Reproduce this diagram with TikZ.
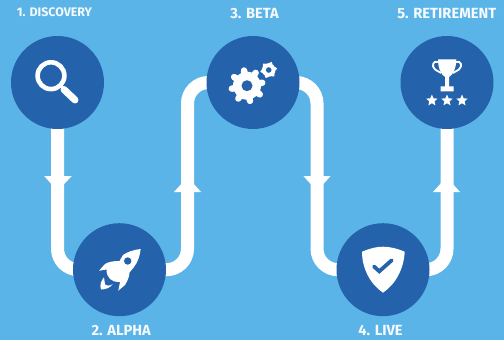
\documentclass[tikz,border=0pt]{standalone}
\usepackage{fontspec}
\setmainfont{Fira Sans}
\usetikzlibrary{shapes.geometric,backgrounds}
\definecolor{skyback}{HTML}{5BB4E7}
\definecolor{discblue}{HTML}{2463AC}
\definecolor{labelwhite}{HTML}{F4FAFE}
\tikzset{
  disc/.style={circle,fill=discblue,minimum size=93pt,inner sep=0pt},
  pipe/.style={draw=white,line width=13pt,rounded corners=21pt},
  phase/.style={text=labelwhite,font=\fontsize{14.7}{14.7}\bfseries\selectfont,inner sep=0pt},
  starmark/.style={star,star points=5,star point ratio=2.2,fill=white,minimum size=12pt,inner sep=0pt},
  tooth/.style={draw=white,line cap=round}
}
\newcommand{\gearicon}[6]{% centre, teeth, body, tooth end, tooth width, hole
  \fill[white] #1 circle (#3pt);
  \foreach \a in {1,...,#2}
    \draw[tooth,line width=#5pt] #1 ++(\a*360/#2+11:#3pt-1pt) -- ++(\a*360/#2+11:#4pt-#3pt);
  \fill[discblue] #1 circle (#6pt);
}
\begin{document}
\begin{tikzpicture}[x=1pt,y=-1pt]
\useasboundingbox (0,0) rectangle (504,340);

\node[disc] (discovery) at (57.5,82.5) {};
\node[disc] (alpha) at (119.5,269.7) {};
\node[disc] (beta) at (253,82.5) {};
\node[disc] (live) at (383,269.7) {};
\node[disc] (retirement) at (447,82.5) {};

\coordinate (turnab) at (187.5,176);
\coordinate (turnbl) at (317,176);

\begin{pgfonlayer}{background}
\fill[skyback] (0,0) rectangle (504,340);
\draw[pipe] (discovery.center) |- (alpha.center);
\draw[pipe] (alpha.center) -| (turnab) |- (beta.center);
\draw[pipe] (beta.center) -| (turnbl) |- (live.center);
\draw[pipe] (live.center) -| (retirement.center);
\end{pgfonlayer}

% arrow heads on the pipes
\fill[white] (44.2,176) -- (71.8,176) -- (57.5,191) -- cycle;
\fill[white] (174,192) -- (201,192) -- (187.5,177) -- cycle;
\fill[white] (303.4,176) -- (330.6,176) -- (317,191) -- cycle;
\fill[white] (433,192) -- (460,192) -- (446.5,177) -- cycle;

\node[phase,font=\fontsize{12.4}{12.4}\bfseries\selectfont] (lab1) at (54.5,12.7) {1. DISCOVERY};
\node[phase] (lab2) at (121.2,331) {2. ALPHA};
\node[phase] (lab3) at (254.5,14) {3. BETA};
\node[phase] (lab4) at (380.5,331) {4. LIVE};
\node[phase] (lab5) at (446.8,14) {5. RETIREMENT};

% magnifier
\draw[white,line width=4.6pt] (51,75.7) circle (13.4pt);
\draw[white,line width=3pt] (60,85) -- (66,91);
\draw[white,line width=7pt,line cap=round] (64,89.5) -- (75,100);

% rocket
\fill[white] (140.7,249) .. controls (133,250) and (127,252) .. (123,255)
  -- (119.5,261) .. controls (113,261) and (108,262) .. (105,264)
  -- (99,270.7) -- (106.5,269.5) .. controls (106.5,274) and (108,277) .. (110,279)
  .. controls (112,281) and (115,282) .. (120,282)
  -- (118.3,290.7) -- (125,285) .. controls (128,280) and (129.5,276) .. (129.5,272.5)
  -- (134,267) .. controls (138,262) and (140,255) .. (140.7,249) -- cycle;
\fill[discblue] (127.7,261) circle (3.7pt);
\fill[white] (104,277.3) .. controls (101,281) and (99.5,285) .. (101,289.5)
  .. controls (105,289.5) and (110,288) .. (112.7,284.3)
  .. controls (109,286) and (106,286) .. (105,284.5)
  .. controls (104.5,282) and (104.5,280) .. (104,277.3) -- cycle;

% gears
\gearicon{(247,85.7)}{8}{14}{16.5}{6.4}{5.5}
\gearicon{(268.7,70)}{6}{6.8}{8}{3.2}{2.8}

% shield
\fill[white] (362,251.7) .. controls (370,248.5) and (376,246.7) .. (383,246.7)
  .. controls (390,246.7) and (397,248.5) .. (404.7,251.7)
  .. controls (404,268) and (396,284) .. (383,292.7)
  .. controls (370,284) and (362,268) .. (362,251.7) -- cycle;
\draw[discblue,line width=3.8pt,line cap=round] (374,266.5) -- (379.3,271.3) -- (391.8,260.2);

% trophy
\fill[white] (438,59.3) -- (456.3,59.3) .. controls (456.3,68) and (453,75) .. (449,77)
  -- (449,86.3) -- (453.7,86.3) -- (453.7,91.3) -- (440.5,91.3) -- (440.5,86.3) -- (445.2,86.3)
  -- (445.2,77) .. controls (441,75) and (438,68) .. (438,59.3) -- cycle;
\draw[white,line width=1.8pt] (438.5,62) .. controls (433,60) and (431,66) .. (435,69.5) -- (441,73);
\draw[white,line width=1.8pt] (455.8,62) .. controls (461,60) and (463,66) .. (459,69.5) -- (453,73);
\node[starmark] (star1) at (431.9,100.5) {};
\node[starmark] (star2) at (447,100.5) {};
\node[starmark] (star3) at (462,100.5) {};
\end{tikzpicture}
\end{document}
